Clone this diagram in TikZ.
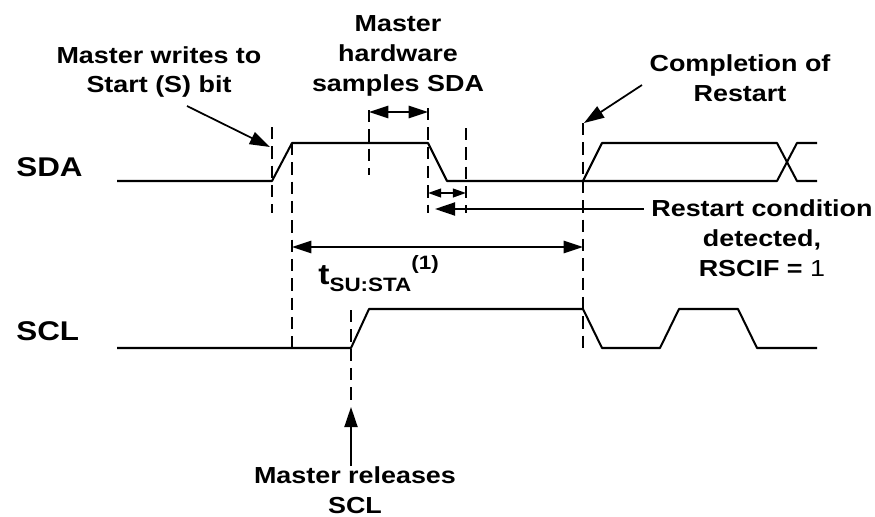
\documentclass[tikz,border=0pt]{standalone}
\usepackage{fontspec}
\setmainfont{Liberation Sans}[FakeStretch=1.16]
\usetikzlibrary{arrows.meta}

\tikzset{
  signal/.style={line width=1.15pt, line join=round},
  repere/.style={line width=0.75pt, dash pattern=on 7pt off 4pt},
  fleche/.style={line width=1pt, -{Triangle[length=11.5pt,width=7.5pt]}},
  bifleche/.style={line width=1pt, {Triangle[length=11pt,width=7pt]}-{Triangle[length=11pt,width=7pt]}},
  petite/.style={line width=1pt, {Triangle[length=7.5pt,width=5pt]}-{Triangle[length=7.5pt,width=5pt]}},
  texte/.style={font=\fontsize{13.2}{17}\selectfont\bfseries, align=center, inner sep=0pt},
  nomsig/.style={font=\fontsize{15.4}{18}\selectfont\bfseries, anchor=west, inner sep=0pt},
}
\newcommand{\indice}[1]{{\fontsize{11}{12}\selectfont #1}}

\begin{document}
\begin{tikzpicture}[x=0.2mm, y=-0.2mm]
        \useasboundingbox (0,0) rectangle (875,517);

        % Signaux SDA et SCL
        \node[nomsig] (sda) at (16,167) {SDA};
        \node[nomsig] (scl) at (16,331) {SCL};
        \draw[signal] (117,181) -- (272,181) -- (292,143) -- (428,143) -- (447,181) -- (583,181) -- (602,143) -- (777,143) -- (797,181) -- (817,181);
        \draw[signal] (583,181) -- (777,181) -- (797,143) -- (817,143);
        \draw[signal] (117,348) -- (351,348) -- (369,309) -- (583,309) -- (602,348) -- (660,348) -- (679,309) -- (738,309) -- (757,348) -- (817,348);

        % Reperes en pointille
        \draw[repere] (272,127) -- (272,213);
        \draw[repere] (292,143) -- (292,348);
        \draw[repere] (369,110) -- (369,175);
        \draw[repere] (428,108) -- (428,213);
        \draw[repere] (466,128) -- (466,213);
        \draw[repere] (583,123) -- (583,348);
        \draw[repere] (351,310) -- (351,403);

        % Points vises par les fleches
        \coordinate (s1) at (270,147);
        \coordinate (s0) at (187,106);
        \coordinate (h1) at (369,112);
        \coordinate (h2) at (428,112);
        \coordinate (c1) at (584,123);
        \coordinate (c0) at (642,85);
        \coordinate (p1) at (428,193);
        \coordinate (p2) at (466,193);
        \coordinate (d1) at (435,209);
        \coordinate (t1) at (292,247);
        \coordinate (t2) at (583,247);
        \coordinate (r1) at (351,407);

        % Textes
        \node[texte] (ecriture) at (159,72) {Master writes to\\Start (S) bit};
        \node[texte] (echant) at (398,56) {Master\\hardware\\samples SDA};
        \node[texte] (fin) at (740,78) {Completion of\\Restart};
        \node[texte] (detect) at (762,238) {Restart condition\\detected,\\RSCIF = {\mdseries 1}};
        \node[font=\fontsize{16.5}{18}\selectfont\bfseries, inner sep=0pt, anchor=base west] (tsu) at (318,284) {t\raisebox{-4pt}{\indice{SU:STA}}\raisebox{8.5pt}{\indice{(1)}}};
        \node[texte] (relache) at (355,490) {Master releases\\SCL};

        % Fleches
        \draw[fleche] (s0) -- (s1);
        \draw[bifleche] (h1) -- (h2);
        \draw[fleche] (c0) -- (c1);
        \draw[petite] (p1) -- (p2);
        \draw[fleche] ([xshift=-4pt]detect.west |- d1) -- (d1);
        \draw[bifleche] (t1) -- (t2);
        \draw[fleche] (relache.north -| r1) -- (r1);
    \end{tikzpicture}
\end{document}
